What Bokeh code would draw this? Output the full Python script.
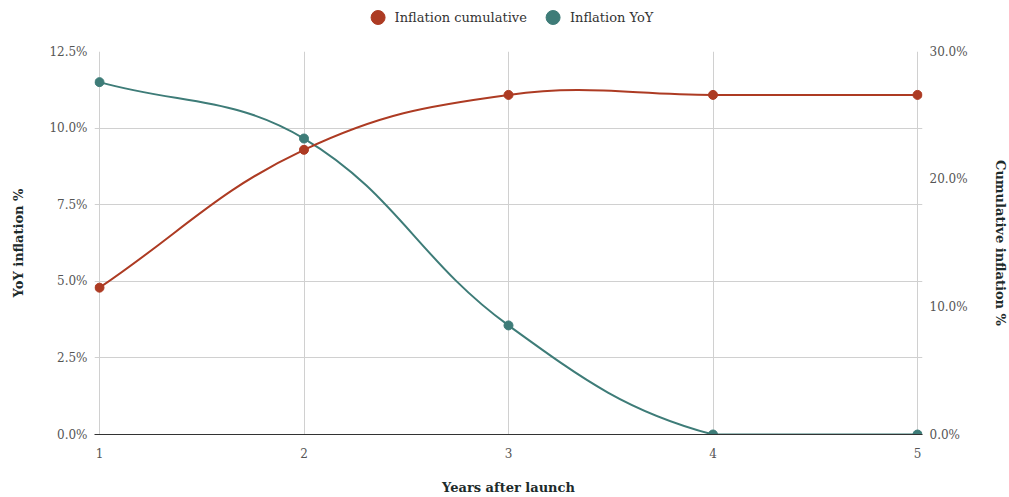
import math
from bokeh.plotting import figure
from bokeh.layouts import column
from bokeh.models import (Range1d, LinearAxis, FixedTicker, PrintfTickFormatter,
                          Legend, LegendItem, ColumnDataSource)
from bokeh.embed import file_html
from bokeh.resources import INLINE

# ---------------- data ----------------
years = [1, 2, 3, 4, 5]
yoy_inflation = [11.5, 9.66, 3.56, 0.0, 0.0]          # % (left axis)
cumulative_inflation = [11.5, 22.3, 26.6, 26.6, 26.6]  # % (right axis)
left_ticks = [0, 2.5, 5, 7.5, 10, 12.5]
right_ticks = [0, 10, 20, 30]
series_names = ["Inflation cumulative", "Inflation YoY"]

RED = "#AD3B23"
TEAL = "#3E7C78"
FONT = "DejaVu Serif"

INNER_W, FH = 818, 383      # pixel span between x=1 and x=5, frame height
EDGE = 5                    # px of frame beyond the first/last year
FW = INNER_W + 2 * EDGE
X0, X1 = 1, 5
PADX = EDGE * (X1 - X0) / INNER_W
YL0, YL1 = 0, 12.5
YR0, YR1 = 0, 30


def spline_segments(xs, ys, kx, ky, xlo, xhi, ylo, yhi, t=0.4):
    """Cardinal-style spline (control points computed in screen proportions)."""
    n = len(xs)
    P = [(x * kx, y * ky) for x, y in zip(xs, ys)]
    cp1, cp2 = [], []
    for i in range(n):
        prev = P[max(i - 1, 0)]
        cur = P[i]
        nxt = P[min(i + 1, n - 1)]
        d01 = math.hypot(cur[0] - prev[0], cur[1] - prev[1])
        d12 = math.hypot(nxt[0] - cur[0], nxt[1] - cur[1])
        tot = d01 + d12
        s01 = d01 / tot if tot else 0
        s12 = d12 / tot if tot else 0
        fa, fb = t * s01, t * s12
        c1 = (cur[0] - fa * (nxt[0] - prev[0]), cur[1] - fa * (nxt[1] - prev[1]))
        c2 = (cur[0] + fb * (nxt[0] - prev[0]), cur[1] + fb * (nxt[1] - prev[1]))
        c1 = (min(max(c1[0] / kx, xlo), xhi), min(max(c1[1] / ky, ylo), yhi))
        c2 = (min(max(c2[0] / kx, xlo), xhi), min(max(c2[1] / ky, ylo), yhi))
        cp1.append(c1)
        cp2.append(c2)
    seg = dict(x0=[], y0=[], x1=[], y1=[], cx0=[], cy0=[], cx1=[], cy1=[])
    for i in range(n - 1):
        seg["x0"].append(xs[i]); seg["y0"].append(ys[i])
        seg["x1"].append(xs[i + 1]); seg["y1"].append(ys[i + 1])
        seg["cx0"].append(cp2[i][0]); seg["cy0"].append(cp2[i][1])
        seg["cx1"].append(cp1[i + 1][0]); seg["cy1"].append(cp1[i + 1][1])
    return seg


# ---------------- legend strip ----------------
lg = figure(width=1007, height=33, x_range=Range1d(0, 1), y_range=Range1d(0, 1),
            output_backend="svg", toolbar_location=None,
            x_axis_location=None, y_axis_location=None,
            min_border=0)
lg.outline_line_color = None
lg.grid.grid_line_color = None
d_cum = lg.scatter(x=years, y=cumulative_inflation, fill_color=RED, line_color=RED,
                   visible=False)
d_yoy = lg.scatter(x=years, y=yoy_inflation, fill_color=TEAL, line_color=TEAL,
                   visible=False)
legend = Legend(items=[LegendItem(label=series_names[0], renderers=[d_cum]),
                       LegendItem(label=series_names[1], renderers=[d_yoy])],
                orientation="horizontal", location="center",
                glyph_width=35, glyph_height=35, label_standoff=0, spacing=8,
                padding=0, margin=0, border_line_color=None,
                background_fill_alpha=0,
                label_text_font=FONT, label_text_font_size="13px",
                label_text_color="#333333")
lg.add_layout(legend, "center")

# ---------------- main chart ----------------
p = figure(frame_width=FW, frame_height=FH,
           x_range=Range1d(X0 - PADX, X1 + PADX), y_range=Range1d(YL0, YL1),
           output_backend="svg", toolbar_location=None,
           min_border_left=99 - EDGE, min_border_right=90 - EDGE,
           min_border_top=18, min_border_bottom=62)
p.extra_y_ranges = {"right": Range1d(YR0, YR1)}
p.outline_line_color = None
p.background_fill_color = "white"
p.border_fill_color = "white"

p.xaxis.ticker = FixedTicker(ticks=years)
p.xaxis.axis_label = "Years after launch"
p.xaxis.axis_line_color = "#333333"
p.xaxis.major_tick_out = 0
p.xaxis.major_tick_in = 0
p.xaxis.minor_tick_line_color = None
p.xaxis.major_label_standoff = 13
p.xaxis.axis_label_standoff = 19

p.yaxis.ticker = FixedTicker(ticks=left_ticks)
p.yaxis.formatter = PrintfTickFormatter(format="%.1f%%")
p.yaxis.axis_label = "YoY inflation %"
p.yaxis.axis_line_color = None
p.yaxis.major_tick_line_color = None
p.yaxis.major_tick_out = 0
p.yaxis.major_tick_in = 0
p.yaxis.minor_tick_line_color = None
p.yaxis.major_label_standoff = 7
p.yaxis.axis_label_standoff = 20

raxis = LinearAxis(y_range_name="right", ticker=FixedTicker(ticks=right_ticks),
                   formatter=PrintfTickFormatter(format="%.1f%%"),
                   axis_label="Cumulative inflation %")
raxis.axis_line_color = None
raxis.major_tick_line_color = None
raxis.major_tick_out = 0
raxis.major_tick_in = 0
raxis.minor_tick_line_color = None
raxis.major_label_standoff = 7
raxis.axis_label_standoff = 22
p.add_layout(raxis, "right")

for ax in [p.xaxis[0], p.yaxis[0], raxis]:
    ax.major_label_text_font = FONT
    ax.major_label_text_font_size = "12px"
    ax.major_label_text_color = "#555555"
    ax.axis_label_text_font = FONT
    ax.axis_label_text_font_size = "13px"
    ax.axis_label_text_font_style = "bold"
    ax.axis_label_text_color = "#1d2b2b"

p.xgrid.grid_line_color = "#d0d0d0"
p.ygrid.grid_line_color = "#d0d0d0"
p.xgrid.ticker = FixedTicker(ticks=years)
p.ygrid.ticker = FixedTicker(ticks=left_ticks)

kx = INNER_W / (X1 - X0)
kyl = FH / (YL1 - YL0)
kyr = FH / (YR1 - YR0)

seg_yoy = spline_segments(years, yoy_inflation, kx, kyl, X0, X1, YL0, YL1)
seg_cum = spline_segments(years, cumulative_inflation, kx, kyr, X0, X1, YR0, YR1)

p.bezier(x0="x0", y0="y0", x1="x1", y1="y1", cx0="cx0", cy0="cy0", cx1="cx1", cy1="cy1",
         source=ColumnDataSource(seg_yoy), line_color=TEAL, line_width=2)
p.bezier(x0="x0", y0="y0", x1="x1", y1="y1", cx0="cx0", cy0="cy0", cx1="cx1", cy1="cy1",
         source=ColumnDataSource(seg_cum), line_color=RED, line_width=2,
         y_range_name="right")

p.scatter(years, yoy_inflation, size=9, fill_color=TEAL, line_color=TEAL)
p.scatter(years, cumulative_inflation, size=9, fill_color=RED, line_color=RED,
          y_range_name="right")

layout = column(lg, p, spacing=0)
open("out.html", "w").write(file_html(layout, INLINE))
